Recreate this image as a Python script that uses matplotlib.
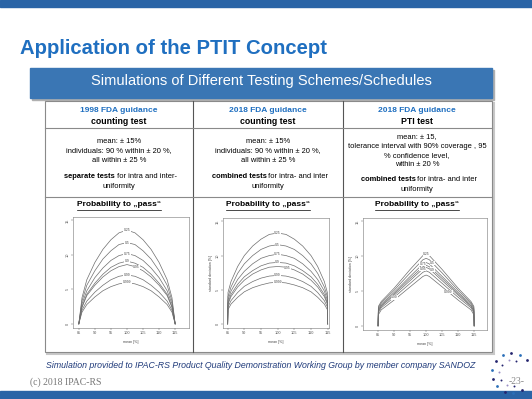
import numpy as np
import matplotlib
matplotlib.use("Agg")
import matplotlib.pyplot as plt
from matplotlib.patches import Rectangle

plt.rcParams['font.family'] = ['Liberation Sans', 'DejaVu Sans']

# ---- data ----
levels = ["0.25", "0.5", "0.75", "0.9", "0.95", "0.99", "0.999"]

x1 = [85, 86, 87.5, 90, 92.5, 95, 97.5, 100, 102.5, 105, 107.5, 110, 112.5, 114, 115]
sd1 = [
    [0, 3.8, 6.4, 8.9, 10.8, 12.2, 13.2, 13.6, 13.2, 12.2, 10.8, 8.9, 6.4, 3.8, 0],
    [0, 3.3, 5.6, 7.7, 9.4, 10.6, 11.5, 11.8, 11.5, 10.6, 9.4, 7.7, 5.6, 3.3, 0],
    [0, 2.9, 4.8, 6.7, 8.1, 9.2, 9.9, 10.2, 9.9, 9.2, 8.1, 6.7, 4.8, 2.9, 0],
    [0, 2.5, 4.3, 5.9, 7.2, 8.2, 8.8, 9.1, 8.8, 8.2, 7.2, 5.9, 4.3, 2.5, 0],
    [0, 2.4, 4.1, 5.6, 6.8, 7.7, 8.3, 8.6, 8.3, 7.7, 6.8, 5.6, 4.1, 2.4, 0],
    [0, 2.0, 3.3, 4.6, 5.6, 6.4, 6.9, 7.1, 6.9, 6.4, 5.6, 4.6, 3.3, 2.0, 0],
    [0, 1.7, 2.8, 3.9, 4.8, 5.4, 5.8, 6.0, 5.8, 5.4, 4.8, 3.9, 2.8, 1.7, 0],
]

x2 = [85, 85.1, 86, 88, 90, 92.5, 95, 97.5, 100, 102.5, 105, 107.5, 110, 112, 114, 114.9, 115]
sd2 = [
    [0, 4.6, 6.2, 8.4, 10.0, 11.4, 12.4, 13.1, 13.3, 13.1, 12.4, 11.4, 10.0, 8.4, 6.2, 4.6, 0],
    [0, 4.0, 5.4, 7.4, 8.8, 10.0, 10.9, 11.4, 11.6, 11.4, 10.9, 10.0, 8.8, 7.4, 5.4, 4.0, 0],
    [0, 3.5, 4.8, 6.5, 7.7, 8.8, 9.6, 10.0, 10.2, 10.0, 9.6, 8.8, 7.7, 6.5, 4.8, 3.5, 0],
    [0, 3.1, 4.3, 5.8, 6.9, 7.8, 8.5, 8.9, 9.0, 8.9, 8.5, 7.8, 6.9, 5.8, 4.3, 3.1, 0],
    [0, 2.9, 4.0, 5.4, 6.4, 7.3, 7.9, 8.3, 8.4, 8.3, 7.9, 7.3, 6.4, 5.4, 4.0, 2.9, 0],
    [0, 2.5, 3.4, 4.6, 5.5, 6.2, 6.7, 7.0, 7.1, 7.0, 6.7, 6.2, 5.5, 4.6, 3.4, 2.5, 0],
    [0, 2.1, 2.9, 3.9, 4.7, 5.3, 5.7, 6.0, 6.1, 6.0, 5.7, 5.3, 4.7, 3.9, 2.9, 2.1, 0],
]

x3 = [85, 85.1, 86, 90, 95, 99, 100, 101, 105, 110, 114, 114.9, 115]
sd3 = [
    [0, 2.8, 3.5, 5.4, 8.1, 10.1, 10.3, 10.1, 8.1, 5.4, 3.5, 2.8, 0],
    [0, 2.6, 3.3, 5.1, 7.6, 9.5, 9.7, 9.5, 7.6, 5.1, 3.3, 2.6, 0],
    [0, 2.4, 3.1, 4.8, 7.1, 8.9, 9.1, 8.9, 7.1, 4.8, 3.1, 2.4, 0],
    [0, 2.2, 2.9, 4.6, 6.8, 8.5, 8.7, 8.5, 6.8, 4.6, 2.9, 2.2, 0],
    [0, 2.1, 2.8, 4.4, 6.5, 8.2, 8.4, 8.2, 6.5, 4.4, 2.8, 2.1, 0],
    [0, 1.9, 2.6, 4.1, 6.1, 7.7, 7.9, 7.7, 6.1, 4.1, 2.6, 1.9, 0],
    [0, 1.6, 2.3, 3.7, 5.6, 7.1, 7.3, 7.1, 5.6, 3.7, 2.3, 1.6, 0],
]

x_ticks = [85, 90, 95, 100, 105, 110, 115]
y_ticks = [0, 5, 10, 15]

col_heads = ["1998 FDA guidance", "2018 FDA guidance", "2018 FDA guidance"]
col_tests = ["counting test", "counting test", "PTI test"]
col_rules = [
    "mean: \u00b1 15%\nindividuals: 90 % within \u00b1 20 %,\nall within \u00b1 25 %",
    "mean: \u00b1 15%\nindividuals: 90 % within \u00b1 20 %,\nall within \u00b1 25 %",
    "mean: \u00b1 15,\ntolerance interval with 90% coverage , 95\n% confidence level,\nwithin \u00b1 20 %",
]
col_notes = [
    ("separate tests", " for intra and inter-\nuniformity"),
    ("combined tests", " for intra- and inter\nuniformity"),
    ("combined tests", " for intra- and inter\nuniformity"),
]

W, H = 532, 399
fig = plt.figure(figsize=(W / 100, H / 100), dpi=100)
bg = fig.add_axes([0, 0, 1, 1])
bg.set_xlim(0, W)
bg.set_ylim(H, 0)
bg.axis("off")

# slide frame
bg.add_patch(Rectangle((0, 0), W, 7, color="#2a64a6"))
bg.add_patch(Rectangle((0, 391), W, 8, color="#2a64a6"))
bg.text(20, 48, "Application of the PTIT Concept", fontsize=14.6, fontweight="bold",
        color="#1f6fc0", va="center")
bg.add_patch(Rectangle((32, 70), 462, 30, color="#b0b0b0"))
bg.add_patch(Rectangle((30, 68), 462, 30, color="#3a76b4"))
bg.text(261, 81, "Simulations of Different Testing Schemes/Schedules", fontsize=10.5,
        color="white", ha="center", va="center")

# table
tx0, tx1, ty0, ty1 = 45, 492, 101, 352
bg.add_patch(Rectangle((tx0 + 1.5, ty0 + 1.5), tx1 - tx0, ty1 - ty0, fill=False,
                       ec="#c8c8c8", lw=1.5))
bg.add_patch(Rectangle((tx0, ty0), tx1 - tx0, ty1 - ty0, fc="white", ec="#8a8a8a", lw=0.8))
for xv in [193, 343]:
    bg.plot([xv, xv], [ty0, ty1], color="#555555", lw=0.8)
for yv in [128, 197]:
    bg.plot([tx0, tx1], [yv, yv], color="#8a8a8a", lw=0.8)

fs = 5.4
centers = [119, 268, 417]
for i, cx in enumerate(centers):
    bg.text(cx, 110, col_heads[i], fontsize=6, fontweight="bold", color="#1f6fc0",
            ha="center", va="center")
    bg.text(cx, 121, col_tests[i], fontsize=6.3, fontweight="bold", color="black",
            ha="center", va="center")
    top = 138 if i < 2 else 133
    bg.text(cx, top, col_rules[i], fontsize=fs, ha="center", va="top", linespacing=1.5)
    ny = 182 if i < 2 else 184.5
    bold, rest = col_notes[i]
    line1, line2 = rest.split("\n")
    t = bg.text(cx, ny - 5, bold + line1, fontsize=fs, ha="center", va="center", alpha=0)
    fig.canvas.draw()
    bb = t.get_window_extent().transformed(bg.transData.inverted())
    tb = bg.text(bb.x0, ny - 5, bold, fontsize=fs, fontweight="bold", ha="left", va="center")
    bbb = tb.get_window_extent().transformed(bg.transData.inverted())
    bg.text(bbb.x1, ny - 5, line1, fontsize=fs, ha="left", va="center")
    bg.text(cx, ny + 5, line2, fontsize=fs, ha="center", va="center")
    p = bg.text(cx, 205, "Probability to \u201epass\u201c", fontsize=6, fontweight="bold",
                ha="center", va="center")
    pb = p.get_window_extent().transformed(bg.transData.inverted())
    bg.plot([pb.x0, pb.x1], [209.5, 209.5], color="black", lw=0.5)

bg.text(46, 366, "Simulation provided to IPAC-RS Product Quality Demonstration Working Group "
        "by member company SANDOZ", fontsize=6.3, style="italic", color="#1f3a7a",
        va="center")
bg.text(30, 382, "(c) 2018 IPAC-RS", fontsize=7, family="Liberation Serif", color="#777777",
        va="center")
bg.text(517, 382, "-23-", fontsize=7, family="Liberation Serif", color="#888888",
        ha="center", va="center")

# logo dots
for k, ang in enumerate(np.linspace(40, 300, 11)):
    a = np.deg2rad(ang)
    bg.scatter(512 + 20 * np.cos(a), 373 - 20 * np.sin(a), s=4,
               color="#2a6fb8" if k % 2 else "#24246e", lw=0)
for k, ang in enumerate(np.linspace(70, 280, 7)):
    a = np.deg2rad(ang)
    bg.scatter(512 + 13 * np.cos(a), 373 - 13 * np.sin(a), s=2,
               color="#9a8fc4" if k % 2 else "#24246e", lw=0)


def px_axes(x0, y0, x1, y1):
    return fig.add_axes([x0 / W, 1 - y1 / H, (x1 - x0) / W, (y1 - y0) / H])


panels = [
    (x1, sd1, (73, 217, 189, 328), (83.2, 119.3), False,
     [(100, 0), (100, 1), (100, 2), (100, 3), (103, 4), (100, 5), (100, 6)]),
    (x2, sd2, (223, 218, 329, 328), (83.6, 115.4), True,
     [(100, 0), (100, 1), (100, 2), (100, 3), (103, 4), (100, 5), (100, 6)]),
    (x3, sd3, (363, 218, 487, 330), (80.3, 119.0), True,
     [(100, 0), (102, 1), (99, 2), (102, 3), (99, 4), (90, 5), (107, 6)]),
]

for xs, curves, box, xl, show_ylab, lab in panels:
    ax = px_axes(*box)
    for ys in curves:
        ax.plot(xs, ys, color="#6e6e6e", lw=0.5)
    for lx, li in lab:
        ys = curves[li]
        ly = np.interp(lx, xs, ys)
        ax.text(lx, ly, levels[li], fontsize=2.4, ha="center", va="center", color="#444444",
                bbox=dict(fc="white", ec="none", pad=0.2))
    ax.set_xlim(*xl)
    ax.set_ylim(-0.6, 15.5)
    ax.set_xticks(x_ticks)
    ax.set_yticks(y_ticks)
    ax.tick_params(labelsize=2.8, length=1.5, width=0.3, pad=1, colors="#555555")
    for lbl in ax.get_yticklabels():
        lbl.set_rotation(90)
        lbl.set_va("center")
    for s in ax.spines.values():
        s.set_linewidth(0.4)
        s.set_color("#777777")
    ax.set_xlabel("mean [%]", fontsize=2.6, labelpad=3, color="#444444")
    if show_ylab:
        ax.set_ylabel("standard deviation [%]", fontsize=2.6, labelpad=2, color="#444444")

fig.savefig("out.png", dpi=100)
